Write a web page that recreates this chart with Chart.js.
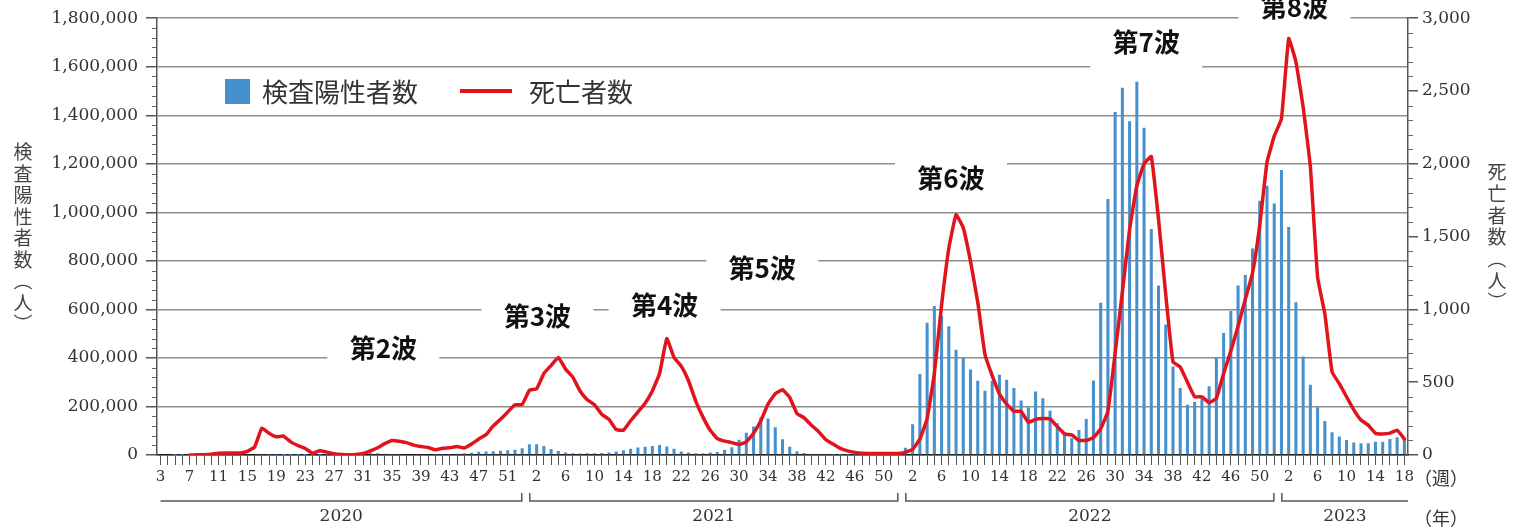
<!DOCTYPE html>
<html><head><meta charset="utf-8">
<script src="https://cdn.jsdelivr.net/npm/chart.js@4.4.1/dist/chart.umd.min.js"></script>
<style>html,body{margin:0;padding:0;background:#fff;}#wrap{width:1524px;height:528px;}</style>
</head><body><div id="wrap"><canvas id="c" width="1524" height="528"></canvas></div>
<script>
// ---- structure: ISO weeks shown per year ----
const years = [2020, 2021, 2022, 2023];
const firstWeek = [3, 1, 1, 1];
const lastWeek = [53, 52, 52, 18];

// ---- weekly positive cases (people) ----
const cases2020 = [0,0,10,10,30,100,200,300,350,400, 1000,2500,3500,3600,2500,1200,600,250,150,200,
  250,350,500,800,1500,3000,4200,6000,8000,9000, 7500,5500,4200,3700,3500,3500,3500,3400,3700,4200,
  4500,5000,7000,9500,13000,14500,15500,17000,20000,22000, 28000];
const cases2021 = [44000,44000,37000,25000,16000,10000,7500,6500,7000,7500,
  8500,10000,14500,20000,26000,31000,34500,37000,41000,35000,
  26000,14500,10000,7500,7500,10000,12500,22000,32000,63000,
  92000,117000,156000,150000,114000,65000,34000,15000,8000,4000,
  2500,1800,1400,1100,1000,900,900,900,1000,1100, 1800,3500];
const cases2022 = [30000,127000,334000,545000,614000,575000,531000,434000,400000,352000,
  306000,265000,306000,331000,310000,276000,225000,197000,262000,234000,
  182000,131000,92000,69000,103000,148000,307000,627000,1055000,1413000,
  1513000,1375000,1538000,1349000,931000,699000,538000,365000,276000,207000,
  218000,235000,283000,400000,503000,593000,699000,742000,851000,1048000, 1110000,1036000];
const cases2023 = [1174000,940000,629000,406000,289000,197000,140000,94000,76000,62000,
  51000,48000,48000,55000,55000,66000,73000,65000];

// ---- weekly deaths (people) ----
const deaths2020 = [null,null,null,null,0,1,2,5,12,13, 13,14,25,55,185,150,125,130,90,65,
  45,12,30,20,8,3,2,4,10,28, 50,78,100,95,85,68,58,52,36,46,
  50,58,48,75,110,140,200,245,295,345, 347];
const deaths2021 = [445,455,560,615,670,590,535,440,380,345,
  280,245,175,170,235,295,355,440,560,800,
  670,610,510,370,260,170,112,95,85,72,
  90,150,235,350,420,448,395,285,255,205,
  160,105,75,45,28,18,12,11,10,10, 10,11];
const deaths2022 = [18,40,110,250,560,1030,1420,1650,1560,1330,
  1050,690,545,420,350,300,300,225,245,250,
  248,195,145,138,100,100,120,180,300,700,
  1120,1550,1850,2000,2050,1620,1100,640,605,500,
  400,400,360,390,560,715,885,1070,1250,1580, 2010,2190];
const deaths2023 = [2310,2860,2700,2390,1980,1220,970,570,490,400,
  310,240,205,150,145,150,170,110];

// ---- axis tick values ----
const caseTickStep = 200000, caseMax = 1800000;
const deathTickStep = 500, deathMax = 3000;

// ---- wave annotations ----
const waveNames = ['第2波','第3波','第4波','第5波','第6波','第7波','第8波'];
const waveAtWeek = [30.8, 52.1, 69.7, 83.2, 109.3, 136.3, 156.8];
const waveAtCases = [441700, 573800, 619000, 772000, 1143000, 1701000, 1845000];
const waveGapLine = [400000, 600000, 600000, 800000, 1200000, 1600000, 1800000];

// ---- build categories ----
const weekLabels = [], yearStartIdx = [], yearEndIdx = [];
years.forEach((y, k) => {
  yearStartIdx.push(weekLabels.length);
  for (let w = firstWeek[k]; w <= lastWeek[k]; w++) weekLabels.push(String(w));
  yearEndIdx.push(weekLabels.length - 1);
});
const cases = [].concat(cases2020, cases2021, cases2022, cases2023);
const deaths = [].concat(deaths2020, deaths2021, deaths2022, deaths2023);

const BLUE = '#4690cd', RED = '#e1141d';
const JP = '"Noto Sans CJK JP", "Noto Sans CJK SC", sans-serif';
const SERIF = '"DejaVu Serif", serif';

const fmt = v => String(v).replace(/\B(?=(\d{3})+(?!\d))/g, ',');

const decor = {
  id: 'decor',
  beforeDatasetsDraw(chart) {
    const {ctx, scales: {x, y}} = chart;
    ctx.save();
    ctx.font = 'bold 26px ' + JP;
    ctx.textAlign = 'center'; ctx.textBaseline = 'middle';
    waveNames.forEach((t, k) => {
      const cx = x.getPixelForValue(waveAtWeek[k]);
      const cy = y.getPixelForValue(waveAtCases[k]);
      const gy = y.getPixelForValue(waveGapLine[k]);
      const top = Math.min(cy - 16, gy - 3), bot = Math.max(cy + 15, gy + 3);
      ctx.fillStyle = '#fff';
      ctx.fillRect(cx - 56, top, 112, bot - top);
      ctx.fillStyle = '#111';
      ctx.fillText(t, cx, cy);
    });
    ctx.restore();
  },
  afterDraw(chart) {
    const {ctx, chartArea: a, scales: {x, y, y1}} = chart;
    ctx.save();
    // minor ticks
    ctx.strokeStyle = '#666'; ctx.lineWidth = 1;
    ctx.beginPath();
    for (let v = 0; v <= caseMax; v += 40000) {
      if (v % caseTickStep === 0) continue;
      const py = Math.round(y.getPixelForValue(v)) + 0.5;
      ctx.moveTo(a.left - 5, py); ctx.lineTo(a.left, py);
    }
    for (let v = 0; v <= deathMax; v += 100) {
      if (v % deathTickStep === 0) continue;
      const py = Math.round(y1.getPixelForValue(v)) + 0.5;
      ctx.moveTo(a.right, py); ctx.lineTo(a.right + 5, py);
    }
    ctx.stroke();

    // legend
    const ds = chart.data.datasets;
    ctx.fillStyle = ds[1].backgroundColor;
    ctx.fillRect(225, 79, 25, 25);
    ctx.font = '26px ' + JP; ctx.textBaseline = 'middle'; ctx.textAlign = 'left';
    ctx.fillStyle = '#333';
    ctx.fillText(ds[1].label, 262, 92);
    ctx.strokeStyle = ds[0].borderColor; ctx.lineWidth = 4;
    ctx.beginPath(); ctx.moveTo(460, 91); ctx.lineTo(512, 91); ctx.stroke();
    ctx.fillText(ds[0].label, 529, 92);

    // vertical axis titles
    ctx.font = '19px ' + JP; ctx.textAlign = 'center'; ctx.fillStyle = '#444';
    const leftTitle = ['検','査','陽','性','者','数','︵','人','︶'];
    leftTitle.forEach((c, k) => ctx.fillText(c, 23, 152 + k * 21.5));
    const rightTitle = ['死','亡','者','数','︵','人','︶'];
    rightTitle.forEach((c, k) => ctx.fillText(c, 1497, 172 + k * 21.7));

    // year brackets
    ctx.strokeStyle = '#555'; ctx.lineWidth = 1.5;
    const by = 501, hook = 8;
    years.forEach((yr, k) => {
      let x0 = k === 0 ? x.getPixelForValue(yearStartIdx[k]) : x.getPixelForValue(yearStartIdx[k] - 0.5) + 4;
      let x1 = k === years.length - 1 ? a.right : x.getPixelForValue(yearEndIdx[k] + 0.5) - 4;
      ctx.beginPath();
      if (k > 0) { ctx.moveTo(x0, by - hook); ctx.lineTo(x0, by); } else ctx.moveTo(x0, by);
      ctx.lineTo(x1, by);
      if (k < years.length - 1) ctx.lineTo(x1, by - hook);
      ctx.stroke();
      ctx.font = '17px ' + SERIF; ctx.fillStyle = '#333'; ctx.textAlign = 'center';
      ctx.fillText(String(yr), (x0 + x1) / 2, 517);
    });
    ctx.font = '18px ' + JP; ctx.fillStyle = '#333'; ctx.textAlign = 'center';
    ctx.fillText('（週）', 1441, 478);
    ctx.fillText('（年）', 1441, 518);
    ctx.restore();
  }
};

new Chart(document.getElementById('c'), {
  type: 'bar',
  data: {
    labels: weekLabels,
    datasets: [
      { type: 'line', label: '死亡者数', data: deaths, yAxisID: 'y1', borderColor: RED,
        borderWidth: 3.5, pointRadius: 0, tension: 0.1, order: 0, spanGaps: false,
        borderJoinStyle: 'round', borderCapStyle: 'round' },
      { type: 'bar', label: '検査陽性者数', data: cases, yAxisID: 'y', backgroundColor: BLUE,
        barPercentage: 0.42, categoryPercentage: 1, order: 1 }
    ]
  },
  options: {
    responsive: false, animation: false, devicePixelRatio: 1,
    layout: { padding: { top: 18, left: 0, right: 0, bottom: 0 } },
    plugins: { legend: { display: false }, tooltip: { enabled: false } },
    scales: {
      x: {
        offset: true,
        grid: { display: true, drawOnChartArea: false, drawTicks: true, tickLength: 10, offset: false, color: '#555', lineWidth: 1 },
        border: { display: true, color: '#222', width: 1.5 },
        ticks: { autoSkip: false, maxRotation: 0, minRotation: 0, padding: 3, color: '#333',
          font: { family: SERIF, size: 15 }, callback: (v, i) => (i % 4 === 0 ? weekLabels[i] : '') },
        afterFit: s => { s.height = 73; }
      },
      y: {
        position: 'left', min: 0, max: caseMax,
        ticks: { stepSize: caseTickStep, color: '#333', padding: 8, font: { family: SERIF, size: 17 }, callback: v => fmt(v) },
        grid: { color: '#8e8e8e', lineWidth: 1.5, tickLength: 11, tickColor: '#555' },
        border: { display: true, color: '#555', width: 1.5 },
        afterFit: s => { s.width = 157; }
      },
      y1: {
        position: 'right', min: 0, max: deathMax,
        ticks: { stepSize: deathTickStep, color: '#333', padding: 4, font: { family: SERIF, size: 17 }, callback: v => fmt(v) },
        grid: { drawOnChartArea: false, tickLength: 10, color: '#555', lineWidth: 1.5 },
        border: { display: true, color: '#555', width: 1.5 },
        afterFit: s => { s.width = 116; }
      }
    }
  },
  plugins: [decor]
});
</script></body></html>
